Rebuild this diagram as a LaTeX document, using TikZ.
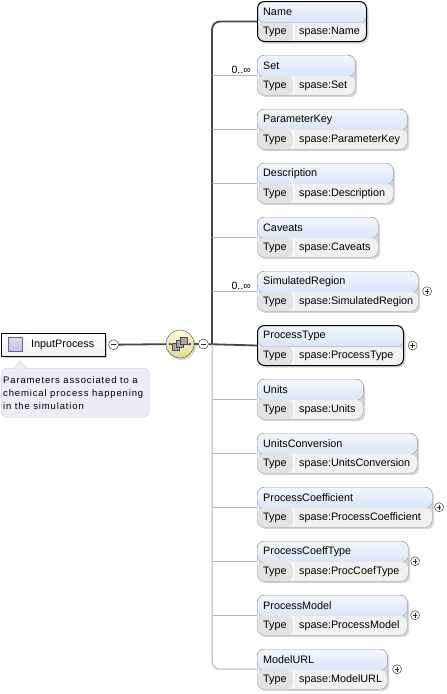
\documentclass[tikz,border=0pt]{standalone}
\usepackage{fontspec}
\setmainfont{Liberation Sans}
\newfontfamily\docfont[LetterSpace=9]{Liberation Sans}
\usepackage{tikz}
\usetikzlibrary{shadows, positioning}

\definecolor{optline}{HTML}{B4B4B4}
\definecolor{mandline}{HTML}{454545}
\definecolor{boxedge}{HTML}{9C9C9C}
\definecolor{titletop}{HTML}{F2F6FD}
\definecolor{titlebot}{HTML}{C3D7F3}
\definecolor{typerow}{HTML}{F1F1F1}
\definecolor{typecell}{HTML}{E3E3E3}
\definecolor{docfill}{HTML}{EEEDF7}
\definecolor{docedge}{HTML}{C5C2DA}
\definecolor{seqtop}{HTML}{FFFBDD}
\definecolor{seqbot}{HTML}{E6D88A}
\definecolor{iconfill}{HTML}{C9BDE6}
\definecolor{iconedge}{HTML}{6E5E9E}

\begin{document}
\begin{tikzpicture}[x=1pt, y=-1pt,
  every node/.style={font=\fontsize{10.8}{12}\selectfont},
  elem/.style={draw=boxedge, rounded corners=7pt, anchor=north west,
    minimum height=40pt, inner sep=0pt,
    drop shadow={shadow xshift=2pt, shadow yshift=-2pt, opacity=0.3},
    path picture={
      \fill[top color=titletop, bottom color=titlebot]
        (path picture bounding box.north west) rectangle ([yshift=-1pt]path picture bounding box.east);
      \fill[typerow] ([yshift=-1pt]path picture bounding box.west) rectangle (path picture bounding box.south east);
      \fill[typecell] ([yshift=-1pt]path picture bounding box.west) rectangle ([xshift=36pt]path picture bounding box.south west);
      \draw[white] ([xshift=36pt,yshift=-1pt]path picture bounding box.west) -- ([xshift=36pt]path picture bounding box.south west);
    }},
  mandelem/.style={elem, draw=black, line width=1pt},
  ttl/.style={anchor=west, inner sep=0pt},
  card/.style={anchor=south east, inner sep=0pt, font=\fontsize{10.5}{12}\selectfont},
  optwire/.style={draw=optline, line width=1pt},
  mandwire/.style={draw=mandline, line width=1.8pt},
  plusbox/.style={circle, draw=black!85, fill=white, minimum size=9pt, inner sep=0pt,
    path picture={\draw[line width=0.7pt] ([xshift=-2.3pt]path picture bounding box.center) -- ([xshift=2.3pt]path picture bounding box.center)
      ([yshift=-2.3pt]path picture bounding box.center) -- ([yshift=2.3pt]path picture bounding box.center);}},
  minusbox/.style={circle, draw=black!85, fill=white, minimum size=10pt, inner sep=0pt,
    path picture={\draw[line width=0.7pt] ([xshift=-2.5pt]path picture bounding box.center) -- ([xshift=2.5pt]path picture bounding box.center);}},
  seqnode/.style={circle, minimum size=28pt, inner sep=0pt, draw=black!75,
    top color=seqtop, bottom color=seqbot,
    drop shadow={shadow xshift=2pt, shadow yshift=-2pt, opacity=0.3}},
  ipbox/.style={draw=black, anchor=north west, minimum width=104pt, minimum height=23pt, inner sep=0pt,
    top color=white, bottom color=black!5,
    drop shadow={shadow xshift=2pt, shadow yshift=-2pt, opacity=0.4}},
  ipicon/.style={draw=iconedge, minimum size=14pt, inner sep=0pt, top color=iconfill!60, bottom color=iconfill},
  docnote/.style={draw=docedge, fill=docfill, rounded corners=6pt, anchor=north west,
    minimum width=148pt, minimum height=49pt, inner sep=0pt},
  doctext/.style={anchor=north west, align=left, inner sep=0pt, font=\docfont\fontsize{9.5}{13}\selectfont}
]
\useasboundingbox[fill=white] (0,0) rectangle (447,694);

% the element InputProcess and its note
\node[ipbox] (InputProcess) at (1,333) {};
\node[ipicon] (IPicon) at ([shift={(14,11.5)}]InputProcess.north west) {};
\node[ttl] (IPtext) at ([shift={(30,11.5)}]InputProcess.north west) {InputProcess};
\node[minusbox, right=3pt of InputProcess] (IPminus) {};

\node[docnote] (IPdoc) at (1,368) {};
\filldraw[draw=docedge, fill=docfill] ([xshift=13pt,yshift=-0.6pt]IPdoc.north west) -- ([shift={(19,-7)}]IPdoc.north west)
  -- ([xshift=26pt,yshift=-0.6pt]IPdoc.north west);
\node[doctext] (IPdocT) at ([shift={(2,8)}]IPdoc.north west)
  {Parameters associated to a\\chemical process happening\\in the simulation};

% sequence compositor
\node[seqnode] (seq) at (180,344) {};
\draw[black!70] ([xshift=-10pt]seq.center) -- ([xshift=10pt]seq.center);
\fill[black!70] ([xshift=-10pt]seq.center) circle (1.3pt) ([xshift=10pt]seq.center) circle (1.3pt);
\filldraw[draw=black!70, fill=black!35] ([shift={(-7.5,-0.5)}]seq.center) rectangle ++(7,7);
\filldraw[draw=black!70, fill=black!35] ([shift={(-3.5,-3.5)}]seq.center) rectangle ++(7,7);
\filldraw[draw=black!70, fill=black!35] ([shift={(0.5,-6.5)}]seq.center) rectangle ++(7,7);
\node[minusbox, right=4pt of seq] (seqminus) {};

% child elements
\node[mandelem, minimum width=109pt] (Name) at (257,1) {};
\node[ttl] (NameT) at ([shift={(6,11)}]Name.north west) {Name};
\node[ttl] (NameK) at ([shift={(6,30.5)}]Name.north west) {Type};
\node[ttl] (NameV) at ([shift={(42,30.5)}]Name.north west) {spase:Name};

\node[elem, minimum width=98pt] (Set) at (257,55) {};
\node[ttl] (SetT) at ([shift={(6,11)}]Set.north west) {Set};
\node[ttl] (SetK) at ([shift={(6,30.5)}]Set.north west) {Type};
\node[ttl] (SetV) at ([shift={(42,30.5)}]Set.north west) {spase:Set};

\node[elem, minimum width=150pt] (ParameterKey) at (257,109) {};
\node[ttl] (ParameterKeyT) at ([shift={(6,11)}]ParameterKey.north west) {ParameterKey};
\node[ttl] (ParameterKeyK) at ([shift={(6,30.5)}]ParameterKey.north west) {Type};
\node[ttl] (ParameterKeyV) at ([shift={(42,30.5)}]ParameterKey.north west) {spase:ParameterKey};

\node[elem, minimum width=136pt] (Description) at (257,163) {};
\node[ttl] (DescriptionT) at ([shift={(6,11)}]Description.north west) {Description};
\node[ttl] (DescriptionK) at ([shift={(6,30.5)}]Description.north west) {Type};
\node[ttl] (DescriptionV) at ([shift={(42,30.5)}]Description.north west) {spase:Description};

\node[elem, minimum width=121pt] (Caveats) at (257,217) {};
\node[ttl] (CaveatsT) at ([shift={(6,11)}]Caveats.north west) {Caveats};
\node[ttl] (CaveatsK) at ([shift={(6,30.5)}]Caveats.north west) {Type};
\node[ttl] (CaveatsV) at ([shift={(42,30.5)}]Caveats.north west) {spase:Caveats};

\node[elem, minimum width=161pt] (SimulatedRegion) at (257,271) {};
\node[ttl] (SimulatedRegionT) at ([shift={(6,11)}]SimulatedRegion.north west) {SimulatedRegion};
\node[ttl] (SimulatedRegionK) at ([shift={(6,30.5)}]SimulatedRegion.north west) {Type};
\node[ttl] (SimulatedRegionV) at ([shift={(42,30.5)}]SimulatedRegion.north west) {spase:SimulatedRegion};
\node[plusbox, right=4pt of SimulatedRegion] (SimulatedRegionX) {};

\node[mandelem, minimum width=146pt] (ProcessType) at (257,325) {};
\node[ttl] (ProcessTypeT) at ([shift={(6,11)}]ProcessType.north west) {ProcessType};
\node[ttl] (ProcessTypeK) at ([shift={(6,30.5)}]ProcessType.north west) {Type};
\node[ttl] (ProcessTypeV) at ([shift={(42,30.5)}]ProcessType.north west) {spase:ProcessType};
\node[plusbox, right=4pt of ProcessType] (ProcessTypeX) {};

\node[elem, minimum width=106pt] (Units) at (257,379) {};
\node[ttl] (UnitsT) at ([shift={(6,11)}]Units.north west) {Units};
\node[ttl] (UnitsK) at ([shift={(6,30.5)}]Units.north west) {Type};
\node[ttl] (UnitsV) at ([shift={(42,30.5)}]Units.north west) {spase:Units};

\node[elem, minimum width=160pt] (UnitsConversion) at (257,433) {};
\node[ttl] (UnitsConversionT) at ([shift={(6,11)}]UnitsConversion.north west) {UnitsConversion};
\node[ttl] (UnitsConversionK) at ([shift={(6,30.5)}]UnitsConversion.north west) {Type};
\node[ttl] (UnitsConversionV) at ([shift={(42,30.5)}]UnitsConversion.north west) {spase:UnitsConversion};

\node[elem, minimum width=175pt] (ProcessCoefficient) at (257,487) {};
\node[ttl] (ProcessCoefficientT) at ([shift={(6,11)}]ProcessCoefficient.north west) {ProcessCoefficient};
\node[ttl] (ProcessCoefficientK) at ([shift={(6,30.5)}]ProcessCoefficient.north west) {Type};
\node[ttl] (ProcessCoefficientV) at ([shift={(42,30.5)}]ProcessCoefficient.north west) {spase:ProcessCoefficient};
\node[plusbox, right=2pt of ProcessCoefficient] (ProcessCoefficientX) {};

\node[elem, minimum width=151pt] (ProcessCoeffType) at (257,541) {};
\node[ttl] (ProcessCoeffTypeT) at ([shift={(6,11)}]ProcessCoeffType.north west) {ProcessCoeffType};
\node[ttl] (ProcessCoeffTypeK) at ([shift={(6,30.5)}]ProcessCoeffType.north west) {Type};
\node[ttl] (ProcessCoeffTypeV) at ([shift={(42,30.5)}]ProcessCoeffType.north west) {spase:ProcCoefType};
\node[plusbox, right=2pt of ProcessCoeffType] (ProcessCoeffTypeX) {};

\node[elem, minimum width=150pt] (ProcessModel) at (257,595) {};
\node[ttl] (ProcessModelT) at ([shift={(6,11)}]ProcessModel.north west) {ProcessModel};
\node[ttl] (ProcessModelK) at ([shift={(6,30.5)}]ProcessModel.north west) {Type};
\node[ttl] (ProcessModelV) at ([shift={(42,30.5)}]ProcessModel.north west) {spase:ProcessModel};
\node[plusbox, right=3pt of ProcessModel] (ProcessModelX) {};

\node[elem, minimum width=130pt] (ModelURL) at (257,649) {};
\node[ttl] (ModelURLT) at ([shift={(6,11)}]ModelURL.north west) {ModelURL};
\node[ttl] (ModelURLK) at ([shift={(6,30.5)}]ModelURL.north west) {Type};
\node[ttl] (ModelURLV) at ([shift={(42,30.5)}]ModelURL.north west) {spase:ModelURL};
\node[plusbox, right=5pt of ModelURL] (ModelURLX) {};

% wires
\coordinate (busmid) at (212,344);
\draw[mandwire] (IPminus) -- (seq);
\draw[mandwire] (seq) -- (seqminus);
\draw[mandwire] (seqminus) -- (ProcessType.west);
\draw[mandwire, rounded corners=8pt] (Name.west) -| (busmid);
\draw[optwire, rounded corners=8pt] (busmid) |- (ModelURL.west);
\draw[optwire] (Set.west -| busmid) -- (Set.west);
\draw[optwire] (ParameterKey.west -| busmid) -- (ParameterKey.west);
\draw[optwire] (Description.west -| busmid) -- (Description.west);
\draw[optwire] (Caveats.west -| busmid) -- (Caveats.west);
\draw[optwire] (SimulatedRegion.west -| busmid) -- (SimulatedRegion.west);
\draw[optwire] (Units.west -| busmid) -- (Units.west);
\draw[optwire] (UnitsConversion.west -| busmid) -- (UnitsConversion.west);
\draw[optwire] (ProcessCoefficient.west -| busmid) -- (ProcessCoefficient.west);
\draw[optwire] (ProcessCoeffType.west -| busmid) -- (ProcessCoeffType.west);
\draw[optwire] (ProcessModel.west -| busmid) -- (ProcessModel.west);

\node[card] (SetC) at ([shift={(-6,-1)}]Set.west) {0..∞};
\node[card] (SimulatedRegionC) at ([shift={(-6,-1)}]SimulatedRegion.west) {0..∞};

\end{tikzpicture}
\end{document}
